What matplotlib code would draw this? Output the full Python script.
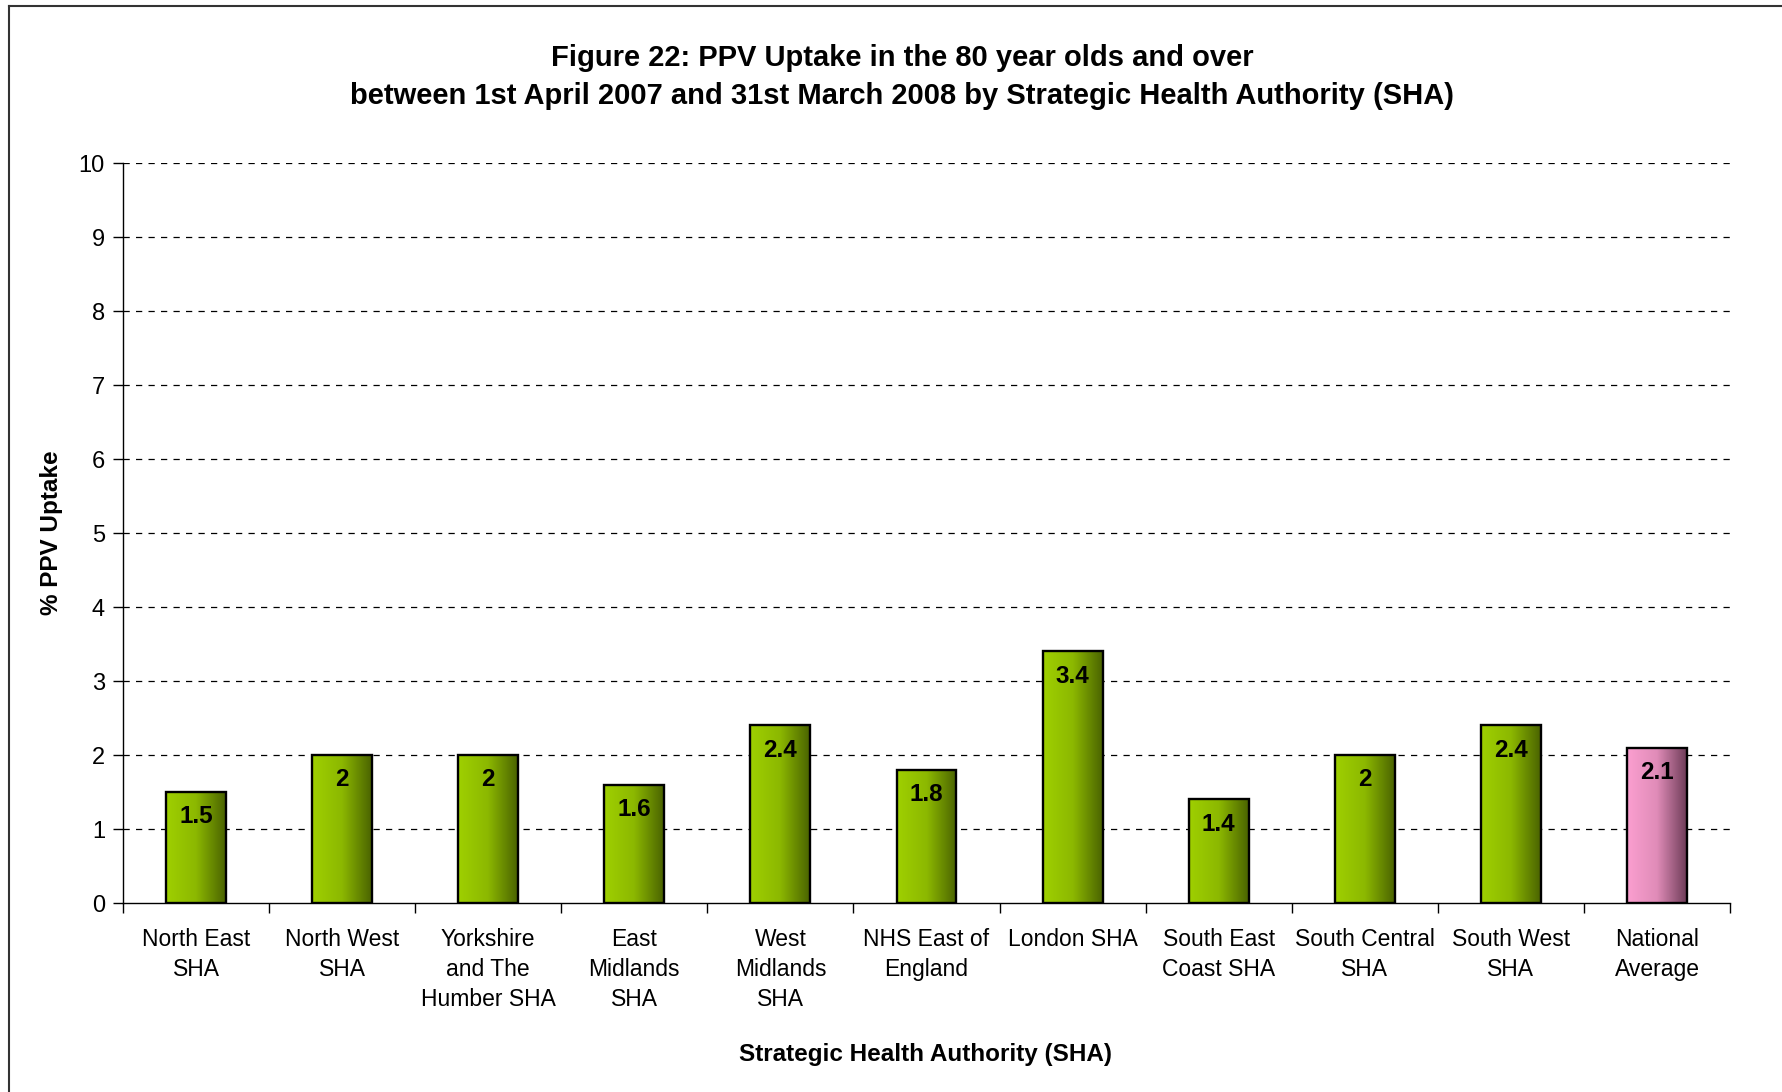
import numpy as np
import matplotlib
matplotlib.use("Agg")
import matplotlib.pyplot as plt
from matplotlib.colors import LinearSegmentedColormap
from matplotlib.patches import Rectangle
from matplotlib.lines import Line2D

categories = ["North East\nSHA", "North West\nSHA", "Yorkshire\nand The\nHumber SHA",
              "East\nMidlands\nSHA", "West\nMidlands\nSHA", "NHS East of\nEngland",
              "London SHA", "South East\nCoast SHA", "South Central\nSHA",
              "South West\nSHA", "National\nAverage"]
values = [1.5, 2.0, 2.0, 1.6, 2.4, 1.8, 3.4, 1.4, 2.0, 2.4, 2.1]
labels = ["1.5", "2", "2", "1.6", "2.4", "1.8", "3.4", "1.4", "2", "2.4", "2.1"]
yticks = list(range(0, 11))

plt.rcParams['font.family'] = ['Liberation Sans', 'DejaVu Sans']

fig = plt.figure(figsize=(17.82, 10.92), dpi=100)
ax = fig.add_axes([123/1782, 1-903/1092, (1730-123)/1782, (903-163)/1092])

green = LinearSegmentedColormap.from_list("g", ["#9fd000", "#8cb800", "#4a6300"])
pink = LinearSegmentedColormap.from_list("p", ["#fb9fd0", "#e08cb8", "#6e3c58"])
grad = np.linspace(0, 1, 256).reshape(1, -1)

x = np.arange(len(values))
w = 0.41
ax.set_xlim(-0.5, len(values) - 0.5)
ax.set_ylim(0, 10)

for i, v in enumerate(values):
    cmap = pink if i == len(values) - 1 else green
    ax.imshow(grad, extent=[x[i] - w/2, x[i] + w/2, 0, v], cmap=cmap,
              aspect='auto', zorder=3, interpolation='bilinear')
    ax.add_patch(Rectangle((x[i] - w/2, 0), w, v, fill=False, edgecolor='black',
                           linewidth=1.7, zorder=4))
    ax.annotate(labels[i], (x[i], v), xytext=(0, -9.5), textcoords='offset points',
                ha='center', va='top', fontsize=17.5, fontweight='bold', zorder=5)

ax.set_xlim(-0.5, len(values) - 0.5)
ax.set_ylim(0, 10)
ax.set_yticks(yticks)
ax.set_yticklabels([str(t) for t in yticks], fontsize=17)
for t in yticks[1:]:
    ax.axhline(t, color='black', linestyle=(0, (5, 5)), linewidth=0.9, zorder=1)

ax.set_xticks(x)
ax.set_xticklabels(categories, fontsize=16.5, linespacing=1.38)
ax.tick_params(axis='x', length=0, pad=18)
ax.set_xticks(np.arange(-0.5, len(values) + 0.5, 1), minor=True)
ax.tick_params(axis='x', which='minor', length=7, width=1)
ax.tick_params(axis='y', length=7, width=1, pad=6)

for s in ['top', 'right']:
    ax.spines[s].set_visible(False)
for s in ['left', 'bottom']:
    ax.spines[s].set_linewidth(1)

ax.set_ylabel("% PPV Uptake", fontsize=17.5, fontweight='bold')
ax.yaxis.set_label_coords(-(123-63)/1607, 0.5)
fig.text(926/1782, 1-1054/1092, "Strategic Health Authority (SHA)", fontsize=17.5,
         fontweight='bold', ha='center', va='center')

fig.text(902/1782, 1-58/1092, "Figure 22: PPV Uptake in the 80 year olds and over",
         fontsize=21, fontweight='bold', ha='center', va='center')
fig.text(902/1782, 1-96/1092,
         "between 1st April 2007 and 31st March 2008 by Strategic Health Authority (SHA)",
         fontsize=21, fontweight='bold', ha='center', va='center')

fig.add_artist(Line2D([9/1782, 9/1782], [0, 1-6/1092], color='#333333', linewidth=1.5,
                      transform=fig.transFigure))
fig.add_artist(Line2D([9/1782, 1], [1-6/1092, 1-6/1092], color='#333333', linewidth=1.5,
                      transform=fig.transFigure))

fig.savefig("out.png", dpi=100)
